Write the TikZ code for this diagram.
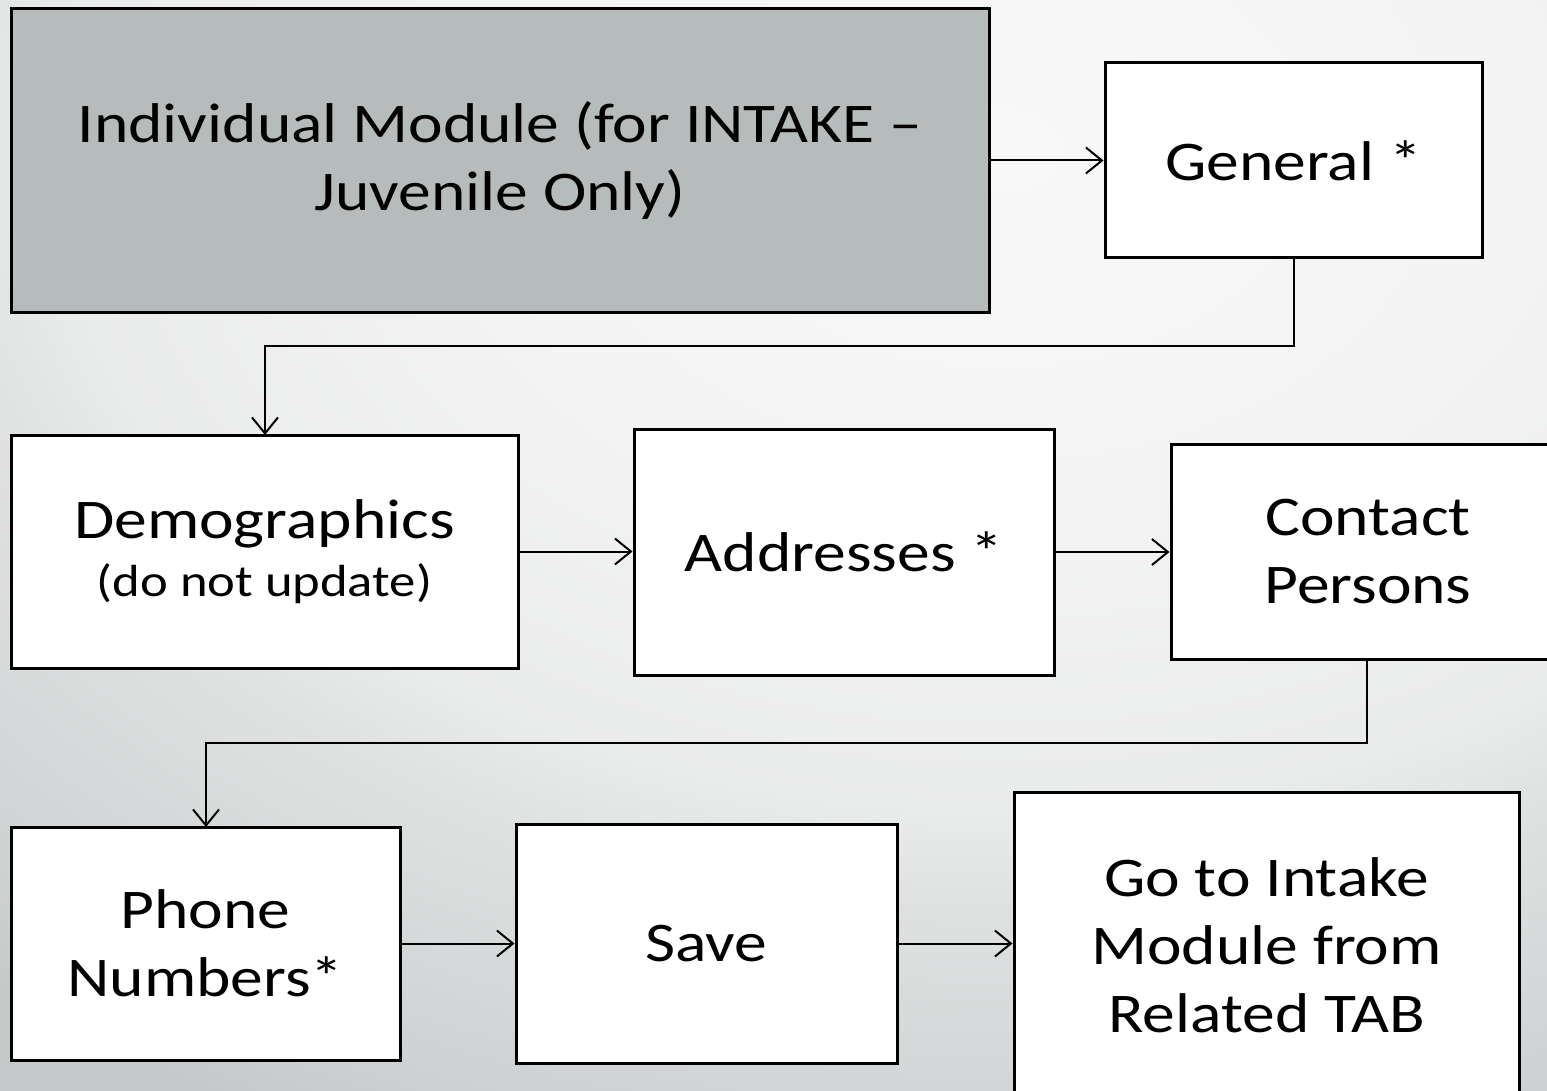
\documentclass[tikz,border=0pt]{standalone}
\usepackage{fontspec}
\setmainfont{Carlito}[FakeStretch=1.17]
\usetikzlibrary{arrows.meta}
\definecolor{bgc0}{HTML}{F8F8F8}
\definecolor{bgc1}{HTML}{F4F4F4}
\definecolor{bgc2}{HTML}{EAEBEB}
\definecolor{bgc3}{HTML}{E0E2E2}
\definecolor{bgc4}{HTML}{CDD1D1}
\definecolor{bgc5}{HTML}{C4C8C8}
\definecolor{modgray}{HTML}{B6BCBB}
% soft page fade, light near the upper right, darker toward the bottom
\pgfdeclareradialshading{pagefade}{\pgfpoint{0bp}{0bp}}{%
  color(0bp)=(bgc0); color(8bp)=(bgc1); color(15bp)=(bgc2);
  color(17bp)=(bgc3); color(23bp)=(bgc4); color(25bp)=(bgc5); color(50bp)=(bgc5)}
\tikzset{
  stepbox/.style={draw=black, line width=3pt, fill=white, inner sep=0pt,
    align=center, font=\fontsize{56}{68}\selectfont},
  flow/.style={line width=2pt, -{Straight Barb[length=16pt,width=26pt,line width=2pt]}},
}
\begin{document}
\begin{tikzpicture}[x=1pt,y=-1pt]
  \useasboundingbox (0,0) rectangle (1547,1091);
  \begin{scope}
    \clip (0,0) rectangle (1547,1091);
    \fill[bgc5] (0,0) rectangle (1547,1091);
    \shade[shading=pagefade] (1000,150) ellipse [x radius=1571, y radius=1100];
  \end{scope}
  \clip (0,0) rectangle (1547,1091);

  % boxes
  \node[stepbox, fill=modgray, minimum width=978pt, minimum height=303pt]
    (ind) at (500,160.5) {Individual Module (for INTAKE –\\Juvenile Only)};
  \node[stepbox, minimum width=377pt, minimum height=195pt]
    (gen) at (1293.5,160.5) {General *};
  \node[stepbox, minimum width=507pt, minimum height=233pt]
    (dem) at (264.5,551.5) {Demographics\\[-10pt]{\fontsize{45}{54}\selectfont (do not update)}};
  \node[stepbox, minimum width=420pt, minimum height=246pt]
    (adr) at (844,552) {Addresses *};
  \node[stepbox, minimum width=394pt, minimum height=215pt]
    (con) at (1368,551.5) {Contact\\Persons};
  \node[stepbox, minimum width=389pt, minimum height=233pt]
    (pho) at (205.5,943.5) {Phone\\Numbers*};
  \node[stepbox, minimum width=381pt, minimum height=239pt]
    (sav) at (706.5,943.5) {Save};
  \node[stepbox, minimum width=505pt, minimum height=306pt]
    (go) at (1266.5,945) {Go to Intake\\Module from\\Related TAB};

  % connectors
  \draw[flow] (ind.east |- gen.west) -- (gen.west);
  \coordinate (g1) at (1294,346);
  \draw[flow] (g1 |- gen.south) -- (g1) -- (265,346) -- (265,435);
  \draw[flow] (dem.east) -- (dem.east -| adr.west);
  \draw[flow] (adr.east) -- (adr.east -| con.west);
  \coordinate (c1) at (1367,743);
  \draw[flow] (c1 |- con.south) -- (c1) -- (206,743) -- (206,827);
  \draw[flow] (pho.east) -- (pho.east -| sav.west);
  \draw[flow] (sav.east) -- (sav.east -| go.west);
\end{tikzpicture}
\end{document}
